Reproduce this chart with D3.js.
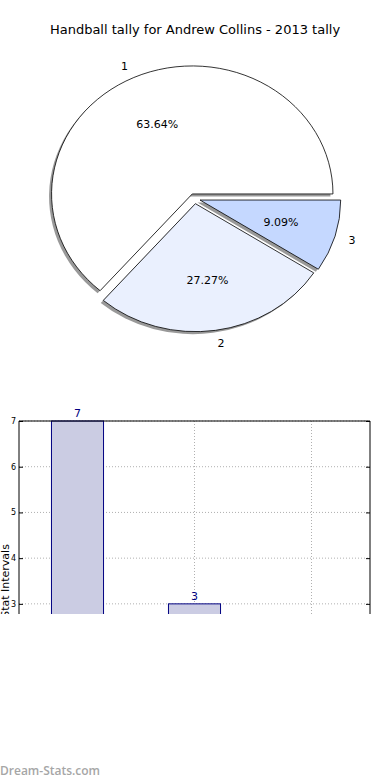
<!DOCTYPE html>
<html>
<head>
<meta charset="utf-8">
<script src="https://cdn.jsdelivr.net/npm/d3@7"></script>
<style>
  body { margin: 0; background: #fff; }
  svg { display: block; font-family: "DejaVu Sans", sans-serif; }
</style>
</head>
<body>
<div id="chart_root"></div>
<script>
// data
const title = "Handball tally for Andrew Collins - 2013 tally";
const sliceLabels = ["1", "2", "3"];
const sliceValues = [7, 3, 1];
const sliceColors = ["#ffffff", "#eaf0fe", "#c5d8ff"];
const barCategories = [0, 1, 2];
const barValues = [7, 3, 1];
const yTicks = [0, 1, 2, 3, 4, 5, 6, 7];

const W = 390, H = 780;
const svg = d3.select("#chart_root")
    .append("svg")
    .attr("width", W)
    .attr("height", H);

svg.append("text")
    .attr("x", 195)
    .attr("y", 34)
    .attr("text-anchor", "middle")
    .style("font-size", "13px")
    .text(title);

// ---- pie (matplotlib style: ccw from 3 o'clock, elliptical, exploded, shadow)
const cx = 194.6, cy = 198.6, rx = 140.7, ry = 128, explode = 0.04;
const pie = d3.pie().sort(null)
    .startAngle(Math.PI / 2)
    .endAngle(Math.PI / 2 - 2 * Math.PI);
const arcs = pie(sliceValues);
const arc = d3.arc().innerRadius(0).outerRadius(rx);
const total = d3.sum(sliceValues);

const pieG = svg.append("g");
const mid = d => (d.startAngle + d.endAngle) / 2;
const offX = (d, k) => cx + Math.sin(mid(d)) * k * rx;
const offY = (d, k) => cy - Math.cos(mid(d)) * k * ry;

// shadows first
pieG.selectAll("path.shadow")
    .data(arcs)
    .enter()
    .append("path")
    .attr("class", "shadow")
    .attr("transform", d => "translate(" + (offX(d, explode) - 2.5) + "," + (offY(d, explode) + 2.5) + ") scale(1," + (ry / rx) + ")")
    .attr("d", arc)
    .style("fill", "#7f7f7f")
    .style("opacity", 0.8);

pieG.selectAll("path.slice")
    .data(arcs)
    .enter()
    .append("path")
    .attr("class", "slice")
    .attr("transform", d => "translate(" + offX(d, explode) + "," + offY(d, explode) + ") scale(1," + (ry / rx) + ")")
    .attr("d", arc)
    .attr("vector-effect", "non-scaling-stroke")
    .style("fill", (d, i) => sliceColors[i])
    .style("stroke", "#000")
    .style("stroke-width", 0.8);

pieG.selectAll("text.lbl")
    .data(arcs)
    .enter()
    .append("text")
    .attr("class", "lbl")
    .attr("x", d => offX(d, explode + 1.1))
    .attr("y", d => offY(d, explode + 1.1))
    .attr("dy", "0.35em")
    .attr("text-anchor", d => Math.sin(mid(d)) > 0 ? "start" : "end")
    .style("font-size", "11px")
    .text((d, i) => sliceLabels[i]);

pieG.selectAll("text.pct")
    .data(arcs)
    .enter()
    .append("text")
    .attr("class", "pct")
    .attr("x", d => offX(d, explode + 0.6))
    .attr("y", d => offY(d, explode + 0.6))
    .attr("dy", "0.35em")
    .attr("text-anchor", "middle")
    .style("font-size", "11px")
    .text(d => (d.value / total * 100).toFixed(2) + "%");

// ---- bar chart (clipped at the bottom like the reference)
const margin = { top: 421, left: 19, right: 20 };
const plotW = W - margin.left - margin.right;
const clipBottom = 614;

svg.append("clipPath")
    .attr("id", "cut")
    .append("rect")
    .attr("x", 0).attr("y", 380)
    .attr("width", W).attr("height", clipBottom - 380);

const barG = svg.append("g").attr("clip-path", "url(#cut)");
const g = barG.append("g")
    .attr("transform", "translate(" + margin.left + "," + margin.top + ")");

const x = d3.scaleLinear().domain([-0.5, 2.5]).range([0, plotW]);
const y = d3.scaleLinear().domain([0, 7]).range([320, 0]);
const barW = 0.445;

// grid
g.selectAll("line.hg")
    .data(yTicks)
    .enter()
    .append("line")
    .attr("x1", 0).attr("x2", plotW)
    .attr("y1", d => y(d)).attr("y2", d => y(d))
    .style("stroke", "#b0b0b0")
    .style("stroke-dasharray", "1,2");
g.selectAll("line.vg")
    .data(barCategories)
    .enter()
    .append("line")
    .attr("x1", d => x(d)).attr("x2", d => x(d))
    .attr("y1", 0).attr("y2", 320)
    .style("stroke", "#b0b0b0")
    .style("stroke-dasharray", "1,2");

g.selectAll("rect.bar")
    .data(barValues)
    .enter()
    .append("rect")
    .attr("class", "bar")
    .attr("x", (d, i) => x(barCategories[i] - barW / 2))
    .attr("y", d => y(d))
    .attr("width", x(barW) - x(0))
    .attr("height", d => y(0) - y(d))
    .style("fill", "#cbcce3")
    .style("stroke", "#000080")
    .style("stroke-width", 1);

g.selectAll("text.val")
    .data(barValues)
    .enter()
    .append("text")
    .attr("x", (d, i) => x(barCategories[i]))
    .attr("y", d => y(d) - 4)
    .attr("text-anchor", "middle")
    .style("font-size", "11px")
    .style("fill", "#000080")
    .text(d => d);

// axes frame
const yAxis = d3.axisLeft(y).tickValues(yTicks).tickSize(-4).tickPadding(3).tickFormat(d3.format("d"));
const ya = g.append("g").call(yAxis);
ya.select(".domain").remove();
ya.selectAll("text").style("font-size", "8px").style("font-family", "DejaVu Sans");
const yaR = g.append("g").attr("transform", "translate(" + plotW + ",0)")
    .call(d3.axisRight(y).tickValues(yTicks).tickSize(-4).tickFormat(""));
yaR.select(".domain").remove();

g.append("line").attr("x1", 0).attr("x2", 0).attr("y1", 0).attr("y2", 320).style("stroke", "#000");
g.append("line").attr("x1", plotW).attr("x2", plotW).attr("y1", 0).attr("y2", 320).style("stroke", "#000");
g.append("line").attr("x1", 0).attr("x2", plotW).attr("y1", 0).attr("y2", 0).style("stroke", "#000");

barG.append("text")
    .attr("transform", "translate(8.5," + (margin.top + 160) + ") rotate(-90)")
    .attr("text-anchor", "middle")
    .style("font-size", "11px")
    .text("Stat Intervals");

svg.append("text")
    .attr("x", 0)
    .attr("y", 775)
    .style("font-family", "'Open Sans', sans-serif")
    .style("font-weight", 600)
    .style("font-size", "12px")
    .style("fill", "#a6a6a6")
    .text("Dream-Stats.com");
</script>
</body>
</html>
